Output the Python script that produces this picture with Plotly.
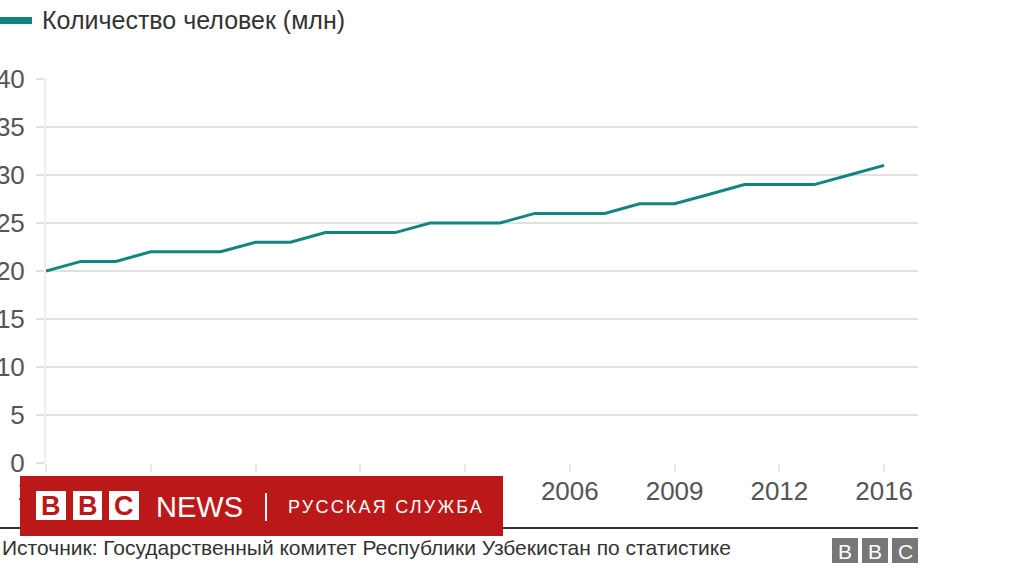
import plotly.graph_objects as go

# ---- data ----
years = ["1991", "1992", "1993", "1994", "1995", "1996", "1997", "1998", "1999",
         "2000", "2001", "2002", "2003", "2004", "2005", "2006", "2007", "2008",
         "2009", "2010", "2011", "2012", "2013", "2014", "2016"]
people_mln = [20, 21, 21, 22, 22, 22, 23, 23, 24, 24, 24, 25, 25, 25, 26, 26, 26,
              27, 27, 28, 29, 29, 29, 30, 31]
x_tick_labels = ["1991", "1994", "1997", "2000", "2003", "2006", "2009", "2012", "2016"]
y_tick_values = [0, 5, 10, 15, 20, 25, 30, 35, 40]
series_name = "Количество человек (млн)"
source_text = "Источник: Государственный комитет Республики Узбекистан по статистике"

# ---- layout geometry (pixels) ----
WIDTH, HEIGHT = 1024, 576
L, R, T, B = 46, 918, 79, 463
PW, PH = R - L, B - T


def fx(px):
    return (px - L) / PW


def fy(py):
    return (B - py) / PH


TEAL = "#138580"
RED = "#BB1919"
GRID = "#e1e1e1"
FONT = "Liberation Sans, Arial, sans-serif"
TICK_COLOR = "#555"

fig = go.Figure()
fig.add_trace(go.Scatter(
    x=years, y=people_mln, mode="lines", name=series_name,
    line=dict(color=TEAL, width=3), showlegend=False, hoverinfo="x+y"))

fig.update_layout(
    width=WIDTH, height=HEIGHT,
    margin=dict(l=L, r=WIDTH - R, t=T, b=HEIGHT - B, pad=0, autoexpand=False),
    paper_bgcolor="white", plot_bgcolor="white",
    font=dict(family=FONT, color=TICK_COLOR),
    xaxis=dict(
        type="category", range=[0, 24.97], automargin=False,
        tickmode="array", tickvals=x_tick_labels, ticktext=x_tick_labels,
        showgrid=False, zeroline=False, showline=False,
        ticks="outside", ticklen=8, tickwidth=2, tickcolor="#e8e8e8",
        tickfont=dict(size=26, color=TICK_COLOR, family=FONT),
        ticklabelstandoff=-3,
    ),
    yaxis=dict(
        range=[0, 40], tickmode="array", tickvals=y_tick_values, automargin=False,
        showgrid=True, gridcolor=GRID, gridwidth=2,
        zeroline=False, showline=True, linecolor="#eeeeee", linewidth=2,
        ticks="outside", ticklen=8, tickwidth=2, tickcolor=GRID,
        tickfont=dict(size=26, color=TICK_COLOR, family=FONT),
        ticklabelstandoff=6,
    ),
)

shapes = []
annotations = []

# legend
shapes.append(dict(type="rect", xref="paper", yref="paper",
                   x0=fx(0), x1=fx(32), y0=fy(17), y1=fy(24),
                   fillcolor=TEAL, line=dict(width=0)))
annotations.append(dict(xref="paper", yref="paper", x=fx(40), y=fy(20),
                        xanchor="left", yanchor="middle", showarrow=False,
                        text=series_name,
                        font=dict(size=25, color="#333", family=FONT)))

# bottom rule
shapes.append(dict(type="line", xref="paper", yref="paper",
                   x0=fx(0), x1=fx(918), y0=fy(528), y1=fy(528),
                   line=dict(color="#333", width=2)))

# source
annotations.append(dict(xref="paper", yref="paper", x=fx(0), y=fy(547),
                        xanchor="left", yanchor="middle", showarrow=False,
                        text=source_text,
                        font=dict(size=21, color="#333", family=FONT)))

# BBC grey logo bottom-right
for i, (x0, x1) in enumerate([(832, 858), (862, 888), (892, 918)]):
    shapes.append(dict(type="rect", xref="paper", yref="paper",
                       x0=fx(x0), x1=fx(x1), y0=fy(563), y1=fy(538),
                       fillcolor="#777777", line=dict(width=0)))
    annotations.append(dict(xref="paper", yref="paper", x=fx((x0 + x1) / 2), y=fy(551),
                            xanchor="center", yanchor="middle", showarrow=False,
                            text="BBC"[i],
                            font=dict(size=21, color="white", family=FONT)))

# red BBC News Russian banner
shapes.append(dict(type="rect", xref="paper", yref="paper",
                   x0=fx(20), x1=fx(503), y0=fy(536), y1=fy(476),
                   fillcolor=RED, line=dict(width=0), layer="above"))
for i, (x0, x1) in enumerate([(36, 66), (73, 102), (109, 139)]):
    shapes.append(dict(type="rect", xref="paper", yref="paper",
                       x0=fx(x0), x1=fx(x1), y0=fy(520), y1=fy(491),
                       fillcolor="white", line=dict(width=0), layer="above"))
    annotations.append(dict(xref="paper", yref="paper", x=fx((x0 + x1) / 2), y=fy(506),
                            xanchor="center", yanchor="middle", showarrow=False,
                            text="<b>" + "BBC"[i] + "</b>",
                            font=dict(size=27, color=RED, family=FONT)))
annotations.append(dict(xref="paper", yref="paper", x=fx(154), y=fy(507),
                        xanchor="left", yanchor="middle", showarrow=False,
                        text="NEWS",
                        font=dict(size=29, color="white", family=FONT)))
shapes.append(dict(type="line", xref="paper", yref="paper",
                   x0=fx(266), x1=fx(266), y0=fy(521), y1=fy(493),
                   line=dict(color="white", width=2), layer="above"))
annotations.append(dict(xref="paper", yref="paper", x=fx(286), y=fy(507),
                        xanchor="left", yanchor="middle", showarrow=False,
                        text='<span style="letter-spacing:2.2px">РУССКАЯ СЛУЖБА</span>',
                        font=dict(size=18, color="white", family=FONT)))

fig.update_layout(shapes=shapes, annotations=annotations)

fig.write_html("out.html", config={"displayModeBar": False},
               post_script="document.body.style.margin='0';")
